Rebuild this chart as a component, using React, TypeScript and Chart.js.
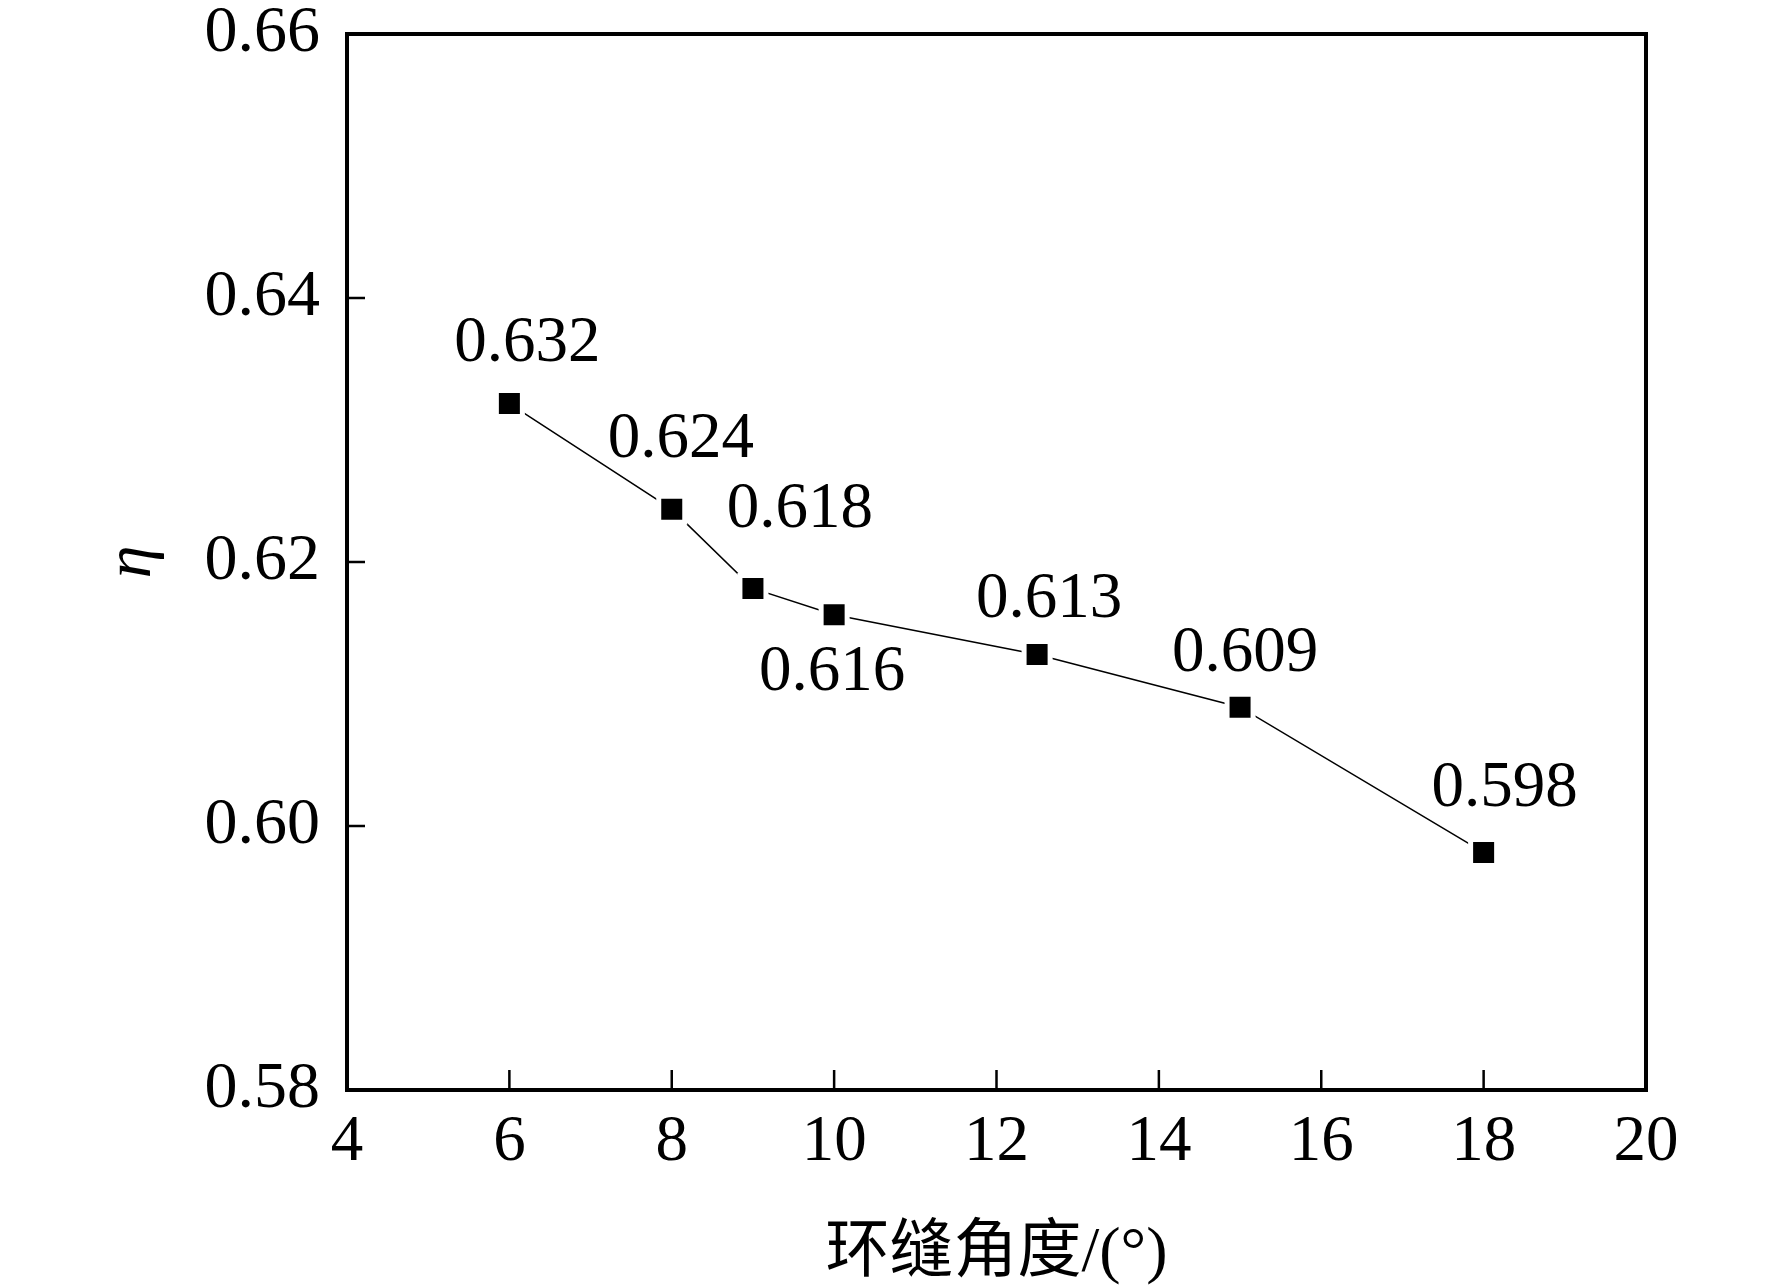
import { useEffect, useRef } from "react"
import { Chart, registerables, Plugin } from "chart.js"

Chart.register(...registerables)

// 环缝角度 (°) and efficiency η
const angles = [6, 8, 9, 10, 12.5, 15, 18]
const eta = [0.632, 0.624, 0.618, 0.616, 0.613, 0.609, 0.598]
const etaLabels = ["0.632", "0.624", "0.618", "0.616", "0.613", "0.609", "0.598"]
// where each value label sits relative to its marker (px)
const labelOffsets: [number, number][] = [
    [18, -65],
    [9, -74],
    [47, -83],
    [-2, 53],
    [12, -59],
    [5, -58],
    [21, -68],
]

const serif = "'Liberation Serif', 'Times New Roman', 'Noto Sans CJK SC', serif"

// frame around the plot area + inward tick marks
const framePlugin: Plugin<"line"> = {
    id: "frame",
    afterDraw(chart) {
        const { ctx, chartArea: a } = chart
        const x = chart.scales.x
        const y = chart.scales.y
        ctx.save()
        ctx.strokeStyle = "#000"
        ctx.lineWidth = 2.5
        ctx.beginPath()
        x.ticks.forEach((t) => {
            const px = x.getPixelForValue(t.value)
            ctx.moveTo(px, a.bottom)
            ctx.lineTo(px, a.bottom - 20)
        })
        y.ticks.forEach((t) => {
            const py = y.getPixelForValue(t.value)
            ctx.moveTo(a.left, py)
            ctx.lineTo(a.left + 18, py)
        })
        ctx.stroke()
        ctx.lineWidth = 4
        ctx.strokeRect(a.left, a.top, a.right - a.left, a.bottom - a.top)
        ctx.restore()
    },
}

const valueLabelPlugin: Plugin<"line"> = {
    id: "valueLabels",
    afterDatasetsDraw(chart) {
        const { ctx } = chart
        const meta = chart.getDatasetMeta(0)
        ctx.save()
        ctx.fillStyle = "#000"
        ctx.font = `65px ${serif}`
        ctx.textAlign = "center"
        ctx.textBaseline = "alphabetic"
        meta.data.forEach((pt, i) => {
            const [dx, dy] = labelOffsets[i]
            ctx.fillText(etaLabels[i], pt.x + dx, pt.y + dy + 22)
        })
        ctx.restore()
    },
}

export default function App() {
    const canvasRef = useRef<HTMLCanvasElement | null>(null)

    useEffect(() => {
        document.body.style.margin = "0"
        if (!canvasRef.current) return
        const ctx = canvasRef.current.getContext("2d")
        if (!ctx) return

        const chart = new Chart(ctx, {
            type: "line",
            data: {
                datasets: [
                    {
                        data: angles.map((a, i) => ({ x: a, y: eta[i] })),
                        borderColor: "#000",
                        borderWidth: 1.5,
                        pointStyle: "rect",
                        pointRadius: 18.4,
                        pointBackgroundColor: "#000",
                        pointBorderColor: "#fff",
                        pointBorderWidth: 5,
                        tension: 0,
                    },
                ],
            },
            options: {
                animation: false,
                responsive: false,
                maintainAspectRatio: false,
                layout: { padding: { left: 0, top: 34, right: 126, bottom: 0 } },
                plugins: {
                    legend: { display: false },
                    tooltip: { enabled: false },
                },
                scales: {
                    x: {
                        type: "linear",
                        min: 4,
                        max: 20,
                        grid: { display: false, drawTicks: false },
                        border: { display: false },
                        ticks: {
                            stepSize: 2,
                            color: "#000",
                            padding: 14,
                            font: { family: serif, size: 65 },
                        },
                        title: {
                            display: true,
                            text: "环缝角度/(°)",
                            color: "#000",
                            font: { family: serif, size: 64, lineHeight: 1 },
                            padding: { top: 0, bottom: 2 },
                        },
                        afterFit(scale) {
                            scale.height = 198
                            scale.paddingLeft = 0
                            scale.paddingRight = 0
                        },
                    },
                    y: {
                        min: 0.58,
                        max: 0.66,
                        grid: { display: false, drawTicks: false },
                        border: { display: false },
                        ticks: {
                            stepSize: 0.02,
                            color: "#000",
                            padding: 27,
                            font: { family: serif, size: 66 },
                            callback: (v) => Number(v).toFixed(2),
                        },
                        title: {
                            display: true,
                            text: "η",
                            color: "#000",
                            font: { family: serif, size: 66, style: "italic", lineHeight: 1 },
                            padding: { top: 100, bottom: 0 },
                        },
                        afterFit(scale) {
                            scale.width = 347
                            scale.paddingTop = 0
                            scale.paddingBottom = 0
                        },
                    },
                },
            },
            plugins: [framePlugin, valueLabelPlugin],
        })

        return () => {
            chart.destroy()
        }
    }, [])

    return (
        <div style={{ width: 1772, height: 1288, background: "#fff" }}>
            <canvas ref={canvasRef} width={1772} height={1288} style={{ width: 1772, height: 1288 }} />
        </div>
    )
}
